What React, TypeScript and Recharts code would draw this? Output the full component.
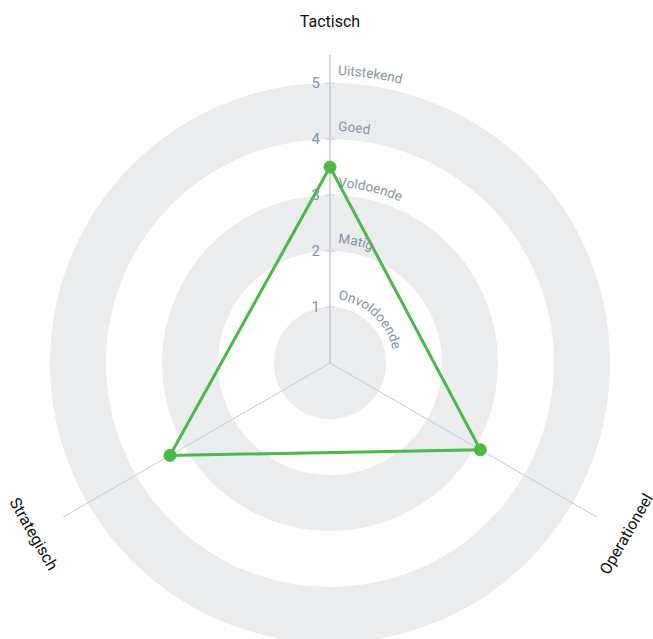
import {
  RadarChart,
  Radar,
  PolarGrid,
  PolarAngleAxis,
  PolarRadiusAxis,
} from "recharts";

const subjects = ["Tactisch", "Operationeel", "Strategisch"];
const scores = [3.5, 3.1, 3.3];
const radiusTicks = [1, 2, 3, 4, 5];
const levelLabels = ["Onvoldoende", "Matig", "Voldoende", "Goed", "Uitstekend"];
const bandCenters = [0.5, 2.5, 4.5];
const maxValue = 5.5;

const data = subjects.map((s, i) => ({ subject: s, score: scores[i] }));

const W = 653;
const H = 639;
const CX = 330;
const CY = 363;
const OUTER = 308;
const UNIT = OUTER / maxValue;

const GREEN = "#4cb848";
const AXIS_GREY = "#c6cad1";
const BAND = "#ebecee";
const TICK_TEXT = "#8792a3";

function AngleTick(props: any) {
  const { x, y, payload } = props;
  const dx = x - CX;
  const dy = y - CY;
  const d = Math.hypot(dx, dy) || 1;
  const k = (d + 26) / d;
  const lx = CX + dx * k;
  const ly = CY + dy * k;
  // tangential text, kept upright
  let deg = (Math.atan2(dy, dx) * 180) / Math.PI + 90;
  if (deg > 90) deg -= 180;
  if (deg <= -90) deg += 180;
  return (
    <text
      x={lx}
      y={ly}
      textAnchor="middle"
      dominantBaseline="central"
      fontSize={16}
      fill="#111"
      transform={`rotate(${deg}, ${lx}, ${ly})`}
    >
      {payload.value}
    </text>
  );
}

function RadiusTick(props: any) {
  const { x, y, payload } = props;
  const v = payload.value;
  const i = radiusTicks.indexOf(v);
  if (i < 0) return <g />;
  const r = payload.coordinate;
  const cy = y + r;
  const R = r + 8;
  const id = `lvl-arc-${v}`;
  const arc = `M ${x} ${cy - R} A ${R} ${R} 0 0 1 ${x + R} ${cy}`;
  return (
    <g>
      <line x1={x - 5} y1={y} x2={x + 5} y2={y} stroke={AXIS_GREY} />
      <text
        x={x - 10}
        y={y}
        textAnchor="end"
        dominantBaseline="central"
        fontSize={15}
        fill={TICK_TEXT}
      >
        {v}
      </text>
      <path id={id} d={arc} fill="none" stroke="none" />
      <text fontSize={13.5} fill={TICK_TEXT}>
        <textPath href={`#${id}`} startOffset={8}>
          {levelLabels[i]}
        </textPath>
      </text>
    </g>
  );
}

export default function App() {
  return (
    <div
      style={{
        position: "absolute",
        left: 0,
        top: 0,
        width: W,
        height: H,
        fontFamily: "Roboto, sans-serif",
      }}
    >
      <RadarChart
        width={W}
        height={H}
        cx={CX}
        cy={CY}
        outerRadius={OUTER}
        data={data}
        margin={{ top: 0, right: 0, bottom: 0, left: 0 }}
      >
        <PolarGrid
          gridType="circle"
          radialLines={false}
          polarRadius={bandCenters.map((b) => b * UNIT)}
          stroke={BAND}
          strokeWidth={UNIT}
        />
        <PolarGrid polarRadius={[]} stroke={AXIS_GREY} strokeWidth={1} />
        <PolarAngleAxis
          dataKey="subject"
          tick={AngleTick}
          tickLine={false}
          axisLine={false}
        />
        <PolarRadiusAxis
          angle={90}
          type="number"
          domain={[0, maxValue]}
          allowDecimals={true}
          allowDataOverflow={true}
          tickCount={12}
          tick={RadiusTick}
          axisLine={{ stroke: AXIS_GREY }}
          tickLine={false}
        />
        <Radar
          dataKey="score"
          stroke={GREEN}
          strokeWidth={3}
          fill="none"
          fillOpacity={0}
          dot={{ r: 6, fill: GREEN, stroke: GREEN, strokeWidth: 1, fillOpacity: 1 }}
          isAnimationActive={false}
        />
      </RadarChart>
    </div>
  );
}
